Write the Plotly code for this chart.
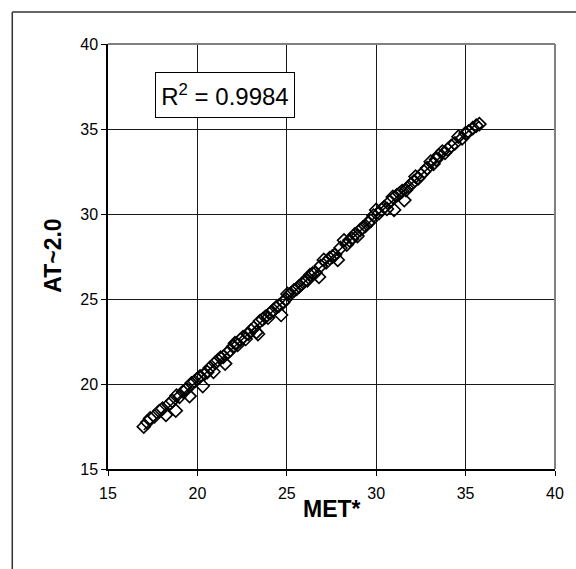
import numpy as np
import plotly.graph_objects as go

# MET* (x) vs AT~2.0 (y) paired measurements
met = [17.00, 17.20, 17.36, 17.60, 17.87, 18.05, 18.24, 18.40, 18.60, 18.79,
       18.83, 19.00, 19.20, 19.40, 19.56, 19.67, 19.85, 20.00, 20.15, 20.30,
       20.40, 20.55, 20.70, 20.90, 21.00, 21.15, 21.30, 21.45, 21.55, 21.70,
       21.85, 22.00, 22.10, 22.25, 22.40, 22.55, 22.70, 22.85, 23.00, 23.15,
       23.30, 23.39, 23.50, 23.65, 23.80, 23.95, 24.10, 24.25, 24.40, 24.55,
       24.68, 24.80, 24.95, 25.04, 25.20, 25.40, 25.55, 25.70, 25.85, 26.00,
       26.15, 26.30, 26.45, 26.60, 26.80, 26.90, 27.07, 27.20, 27.40, 27.55,
       27.70, 27.85, 28.00, 28.20, 28.35, 28.50, 28.65, 28.80, 28.95, 29.10,
       29.25, 29.40, 29.55, 29.70, 29.85, 30.00, 30.15, 30.30, 30.45, 30.60,
       30.75, 30.93, 31.00, 31.15, 31.30, 31.45, 31.57, 31.67, 31.80, 31.95,
       32.10, 32.20, 32.35, 32.50, 32.68, 32.85, 33.05, 33.20, 33.35, 33.50,
       33.70, 33.85, 34.00, 34.20, 34.40, 34.60, 34.80, 35.00, 35.16, 35.40,
       35.60, 35.77]
at20 = [17.49, 17.75, 17.98, 18.10, 18.41, 18.55, 18.18, 18.80, 19.00, 18.43,
        19.31, 19.25, 19.55, 19.70, 19.29, 20.04, 20.15, 20.30, 20.45, 19.88,
        20.60, 20.70, 20.95, 20.72, 21.25, 21.40, 21.55, 21.60, 21.20, 21.85,
        22.00, 22.20, 22.40, 22.30, 22.60, 22.75, 22.65, 22.95, 23.15, 23.30,
        23.05, 22.94, 23.70, 23.80, 23.95, 23.90, 24.20, 24.35, 24.50, 24.60,
        24.06, 24.80, 25.00, 25.30, 25.30, 25.50, 25.60, 25.75, 25.90, 26.05,
        26.10, 26.40, 26.50, 26.55, 26.30, 26.95, 27.30, 27.15, 27.40, 27.50,
        27.60, 27.30, 28.00, 28.45, 28.20, 28.45, 28.55, 28.80, 28.70, 29.05,
        29.20, 29.30, 29.50, 29.60, 29.90, 30.24, 30.05, 30.25, 30.40, 30.30,
        30.70, 31.00, 30.24, 31.10, 31.20, 31.35, 30.82, 31.41, 31.60, 31.75,
        31.90, 32.20, 32.10, 32.30, 32.49, 32.70, 33.08, 32.95, 33.20, 33.45,
        33.67, 33.60, 33.80, 34.00, 34.15, 34.55, 34.45, 34.75, 34.84, 35.05,
        35.20, 35.29]

axis_ticks = [15, 20, 25, 30, 35, 40]
r2_label = "R<sup>2</sup> = 0.9984"

# Linear trendline fitted to the data
slope, intercept = np.polyfit(met, at20, 1)
fit_x = [min(met), max(met)]
fit_y = [slope * v + intercept for v in fit_x]

font_family = "Liberation Sans, Arial, sans-serif"

fig = go.Figure()
fig.add_trace(go.Scatter(
    x=met, y=at20, mode="markers",
    marker=dict(symbol="diamond-open", size=10, color="black",
                line=dict(color="black", width=1.6)),
    showlegend=False, hoverinfo="skip"))
fig.add_trace(go.Scatter(
    x=fit_x, y=fit_y, mode="lines",
    line=dict(color="black", width=1.5),
    showlegend=False, hoverinfo="skip"))

axis_common = dict(
    range=[15, 40], tickvals=axis_ticks, ticktext=[str(t) for t in axis_ticks],
    showgrid=True, gridcolor="#1a1a1a", gridwidth=1, zeroline=False,
    showline=True, linecolor="black", linewidth=1.5,
    ticks="outside", ticklen=5, tickcolor="black", tickwidth=1,
    tickfont=dict(family=font_family, size=16, color="black"),
)
fig.update_xaxes(**axis_common, ticklabelstandoff=4)
fig.update_yaxes(**axis_common)

W, H = 576, 569
ml, mr, mt, mb = 108, 15, 44, 100
pw, ph = W - ml - mr, H - mt - mb

shapes = [
    # grey top and right edges of the plot area
    dict(type="line", xref="paper", yref="paper", x0=0, x1=1, y0=1, y1=1,
         line=dict(color="#808080", width=2)),
    dict(type="line", xref="paper", yref="paper", x0=1, x1=1, y0=0, y1=1,
         line=dict(color="#808080", width=2)),
    # outer chart frame (left and top edges)
    dict(type="line", xref="paper", yref="paper",
         x0=(11 - ml) / pw, x1=(11 - ml) / pw, y0=1 + (mt - 12) / ph, y1=-0.3,
         line=dict(color="#333333", width=1.5)),
    dict(type="line", xref="paper", yref="paper",
         x0=(11 - ml) / pw, x1=1.2, y0=1 + (mt - 12) / ph, y1=1 + (mt - 12) / ph,
         line=dict(color="#333333", width=1.5)),
]

annotations = [
    dict(text=r2_label, xref="paper", yref="paper",
         x=(227 - ml) / pw, y=1 - (95 - mt) / ph, showarrow=False,
         xanchor="center", yanchor="middle",
         font=dict(family=font_family, size=24, color="black"),
         bordercolor="black", borderwidth=1, bgcolor="white",
         width=136, height=42),
    dict(text="<b>MET*</b>", xref="paper", yref="paper",
         x=(335 - ml) / pw, y=-(509 - mt - ph) / ph, showarrow=False,
         xanchor="center", yanchor="middle",
         font=dict(family=font_family, size=23, color="black")),
    dict(text="<b>AT~2.0</b>", xref="paper", yref="paper",
         x=(52 - ml) / pw, y=1 - (256 - mt) / ph, showarrow=False,
         xanchor="center", yanchor="middle", textangle=-90,
         font=dict(family=font_family, size=23, color="black")),
]

fig.update_layout(
    width=W, height=H,
    margin=dict(l=ml, r=mr, t=mt, b=mb),
    paper_bgcolor="white", plot_bgcolor="white",
    shapes=shapes, annotations=annotations,
    showlegend=False,
)

fig.write_html("out.html")
